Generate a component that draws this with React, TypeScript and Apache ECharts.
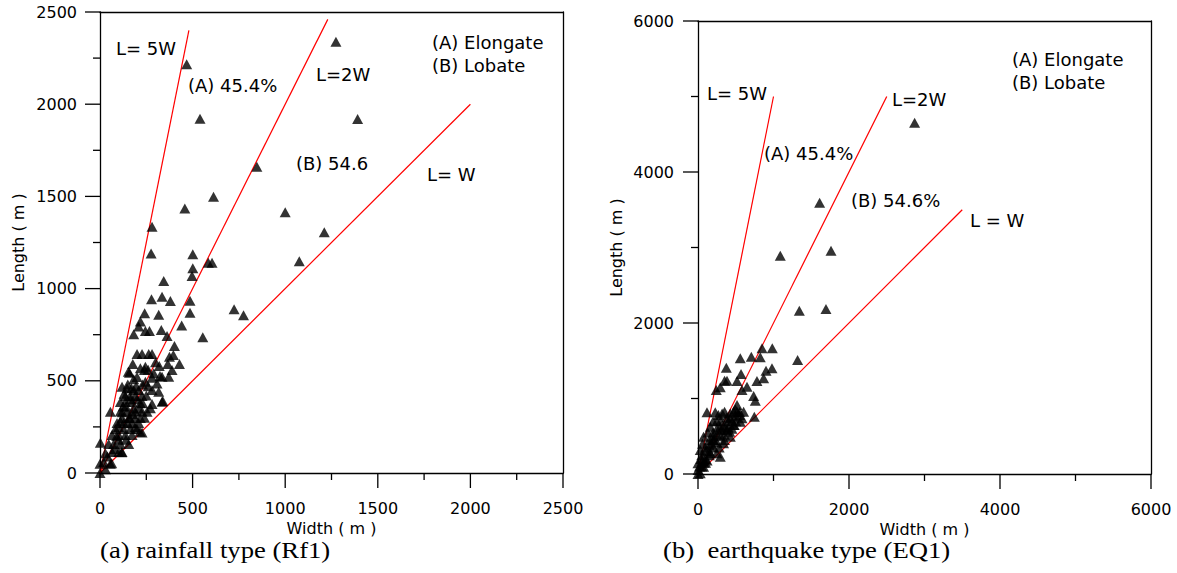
import React, { useEffect, useRef } from "react";
import * as echarts from "echarts";

// ---------- data ----------
const leftTicks = [0, 500, 1000, 1500, 2000, 2500];
const rightTicks = [0, 2000, 4000, 6000];

const leftPoints: [number, number][] = [
  [1274, 2339], [468, 2216], [540, 1921], [1391, 1920], [847, 1661], [613, 1498],
  [458, 1435], [1000, 1414], [1211, 1305], [1076, 1148], [281, 1336], [276, 1191],
  [501, 1186], [585, 1140], [605, 1140], [501, 1110], [497, 1068], [486, 934],
  [486, 869], [724, 888], [775, 855], [441, 800], [555, 736],
  [344, 1041], [278, 942], [335, 956], [380, 933], [241, 866], [317, 858],
  [218, 821], [209, 794], [245, 770], [267, 770], [182, 752], [331, 775],
  [362, 743], [402, 689], [200, 645], [227, 645], [263, 645], [281, 645],
  [375, 631], [396, 640], [366, 591], [429, 591], [177, 591], [245, 576],
  [218, 568], [389, 559], [159, 544], [290, 541], [371, 522], [335, 522],
  [182, 508], [245, 495], [308, 486], [119, 468], [146, 459], [182, 450],
  [209, 450], [281, 450], [317, 441], [137, 418], [164, 418], [191, 418],
  [227, 418], [335, 387], [281, 374], [272, 351], [254, 332], [110, 385],
  [137, 385], [173, 385], [218, 378], [56, 332], [110, 334], [146, 334],
  [191, 334], [227, 334], [119, 298], [155, 298], [191, 298], [218, 298],
  [92, 271], [128, 271], [173, 271], [209, 271], [83, 239], [128, 239],
  [164, 239], [200, 239], [227, 219], [65, 206], [101, 206], [137, 206],
  [173, 206], [2, 164], [47, 157], [74, 157], [110, 157], [155, 157],
  [65, 114], [101, 114], [119, 114], [29, 107], [0, 50], [56, 50], [0, 0],
  [153, 549], [240, 559], [324, 526], [281, 517], [339, 390], [216, 224],
  [117, 112], [63, 53], [30, 20], [20, 60],
  [100, 250], [120, 330], [140, 360], [160, 300], [180, 350], [200, 400],
  [230, 380], [250, 420], [260, 470], [150, 480], [130, 430], [110, 280],
  [90, 200], [140, 180], [190, 250], [240, 300], [210, 350], [170, 460],
  [200, 520], [230, 480], [80, 130], [40, 90], [260, 560], [300, 600], [320, 580],
  [125, 360], [165, 400], [195, 470], [150, 270], [100, 180], [175, 320],
];

const rightPoints: [number, number][] = [
  [2869, 4653], [1611, 3594], [1090, 2892], [1762, 2958], [1342, 2163], [1695, 2185],
  [1319, 1510], [984, 1665], [848, 1665], [825, 1545], [706, 1554], [560, 1532],
  [375, 1408], [384, 1236], [352, 1236], [517, 1232], [570, 1325], [901, 1368],
  [980, 1400], [781, 1232], [869, 1268], [295, 1148], [242, 1113], [649, 1157],
  [583, 1113], [737, 1033], [759, 971], [119, 817], [229, 817], [352, 825],
  [472, 825], [517, 825], [604, 825], [517, 914], [494, 857], [746, 759],
  [428, 804], [583, 738], [428, 738], [560, 693], [472, 649], [163, 627],
  [295, 627], [384, 583], [74, 494], [207, 450], [339, 406], [428, 494],
  [30, 318], [163, 274], [295, 229], [0, 142], [74, 97], [0, 53], [30, 9],
  [50, 100], [80, 150], [100, 200], [150, 300], [200, 350], [250, 420],
  [300, 500], [350, 600], [150, 450], [200, 550], [100, 350], [50, 250],
  [120, 180], [250, 700], [400, 700], [450, 600], [350, 450], [200, 700],
  [130, 550], [60, 400], [40, 200], [20, 100], [0, 0], [180, 400], [280, 350],
  [500, 700], [550, 780], [251, 274],
  [100, 300], [150, 380], [200, 450], [250, 520], [300, 580], [350, 650],
  [400, 620], [450, 700], [500, 760], [550, 820], [300, 700], [250, 600],
  [200, 500], [150, 250], [100, 150], [60, 180], [350, 520], [420, 560],
  [480, 650], [380, 750], [320, 800], [270, 780],
];

const leftLine5W: [number, number][] = [[0, 0], [480, 2400]];
const leftLine2W: [number, number][] = [[0, 0], [1230, 2460]];
const leftLineW: [number, number][] = [[0, 0], [2000, 2000]];
const rightLine5W: [number, number][] = [[0, 0], [1000, 5000]];
const rightLine2W: [number, number][] = [[0, 0], [2500, 5000]];
const rightLineW: [number, number][] = [[0, 0], [3500, 3500]];

const SANS = "DejaVu Sans";
const SERIF = "Liberation Serif";
const INK = "#000";

const midpoints = (t: number[]) => t.slice(0, -1).map((v, i) => (v + t[i + 1]) / 2);

// axis carrying the line, labels and name
function labelAxis(gridIndex: number, ticks: number[], name: string, nameGap: number, margin: number, position: string) {
  return {
    type: "value",
    gridIndex,
    position,
    min: ticks[0],
    max: ticks[ticks.length - 1],
    interval: ticks[1] - ticks[0],
    name,
    nameLocation: "middle",
    nameGap,
    nameTextStyle: { fontFamily: SANS, fontSize: 16, color: INK },
    axisLine: { show: true, onZero: false, lineStyle: { color: INK, width: 1.3 } },
    axisTick: { show: false },
    axisLabel: {
      show: true,
      margin,
      fontFamily: SANS,
      fontSize: 16,
      color: INK,
      formatter: (v: number) => String(v),
    },
    splitLine: { show: false },
  };
}

// frame line (top / right)
function frameAxis(gridIndex: number, ticks: number[], position: string) {
  return {
    type: "value",
    gridIndex,
    position,
    min: ticks[0],
    max: ticks[ticks.length - 1],
    axisLine: { show: true, onZero: false, lineStyle: { color: INK, width: 1.3 } },
    axisTick: { show: false },
    axisLabel: { show: false },
    splitLine: { show: false },
  };
}

// tick marks placed through the axis scale (custom series)
function tickSeries(values: number[], dir: "x" | "y", len: number, idx: number) {
  return {
    type: "custom",
    xAxisIndex: idx,
    yAxisIndex: idx,
    clip: false,
    silent: true,
    z: 5,
    data: values.map((v) => (dir === "x" ? [v, 0] : [0, v])),
    renderItem: (params: any, api: any) => {
      const p = api.coord([api.value(0), api.value(1)]);
      const shape =
        dir === "x"
          ? { x1: p[0], y1: p[1], x2: p[0], y2: p[1] + len }
          : { x1: p[0] - len, y1: p[1], x2: p[0], y2: p[1] };
      return { type: "line", shape, style: { stroke: INK, lineWidth: 1.3 } };
    },
  };
}

function lineSeries(data: [number, number][], idx: number) {
  return {
    type: "line",
    xAxisIndex: idx,
    yAxisIndex: idx,
    data,
    symbol: "none",
    lineStyle: { color: "#ff0000", width: 1.2 },
    z: 1,
    silent: true,
  };
}

function scatterSeries(data: [number, number][], idx: number) {
  return {
    type: "scatter",
    xAxisIndex: idx,
    yAxisIndex: idx,
    data,
    symbol: "triangle",
    symbolSize: [11, 10],
    itemStyle: { color: INK },
    clip: false,
    z: 2,
  };
}

function label(text: string, x: number, y: number) {
  return {
    type: "text",
    x,
    y,
    style: {
      text,
      fontFamily: SANS,
      fontSize: 18,
      fill: INK,
      textAlign: "left",
      textVerticalAlign: "middle",
    },
    z: 10,
  };
}

function caption(text: string, x: number, y: number) {
  return {
    type: "text",
    x,
    y,
    scaleX: 1.16,
    style: {
      text,
      fontFamily: SERIF,
      fontSize: 23,
      fill: INK,
      textAlign: "left",
      textVerticalAlign: "middle",
    },
    z: 10,
  };
}

export default function App() {
  const ref = useRef<HTMLDivElement>(null);
  useEffect(() => {
    const chart = echarts.init(ref.current!, null, { renderer: "svg" });
    const option: any = {
      animation: false,
      backgroundColor: "#fff",
      grid: [
        { left: 100, top: 12, width: 463, height: 461 },
        { left: 698, top: 21, width: 453, height: 453 },
      ],
      xAxis: [
        labelAxis(0, leftTicks, "Width ( m )", 47, 27, "bottom"),
        frameAxis(0, leftTicks, "top"),
        labelAxis(1, rightTicks, "Width ( m )", 47, 27, "bottom"),
        frameAxis(1, rightTicks, "top"),
      ],
      yAxis: [
        labelAxis(0, leftTicks, "Length ( m )", 74, 23, "left"),
        frameAxis(0, leftTicks, "right"),
        labelAxis(1, rightTicks, "Length ( m )", 74, 24, "left"),
        frameAxis(1, rightTicks, "right"),
      ],
      series: [
        lineSeries(leftLine5W, 0),
        lineSeries(leftLine2W, 0),
        lineSeries(leftLineW, 0),
        lineSeries(rightLine5W, 2),
        lineSeries(rightLine2W, 2),
        lineSeries(rightLineW, 2),
        scatterSeries(leftPoints, 0),
        scatterSeries(rightPoints, 2),
        tickSeries(leftTicks, "x", 15, 0),
        tickSeries(midpoints(leftTicks), "x", 7, 0),
        tickSeries(leftTicks, "y", 15, 0),
        tickSeries(midpoints(leftTicks), "y", 7, 0),
        tickSeries(rightTicks, "x", 15, 2),
        tickSeries(midpoints(rightTicks), "x", 7, 2),
        tickSeries(rightTicks, "y", 15, 2),
        tickSeries(midpoints(rightTicks), "y", 7, 2),
      ],
      graphic: [
        label("L= 5W", 116, 48),
        label("(A) 45.4%", 188, 85),
        label("L=2W", 316, 74),
        label("(B) 54.6", 296, 163),
        label("L= W", 427, 174),
        label("(A) Elongate", 432, 42),
        label("(B) Lobate", 432, 65),
        label("L= 5W", 707, 93),
        label("(A) 45.4%", 764, 153),
        label("L=2W", 892, 99),
        label("(B) 54.6%", 851, 200),
        label("L = W", 970, 220),
        label("(A) Elongate", 1012, 59),
        label("(B) Lobate", 1012, 82),
        caption("(a) rainfall type (Rf1)", 100, 550),
        caption("(b)  earthquake type (EQ1)", 663, 550),
      ],
    };
    chart.setOption(option);
    return () => chart.dispose();
  }, []);
  return (
    <div
      ref={ref}
      style={{ position: "fixed", left: 0, top: 0, width: 1177, height: 573, background: "#fff" }}
    />
  );
}
